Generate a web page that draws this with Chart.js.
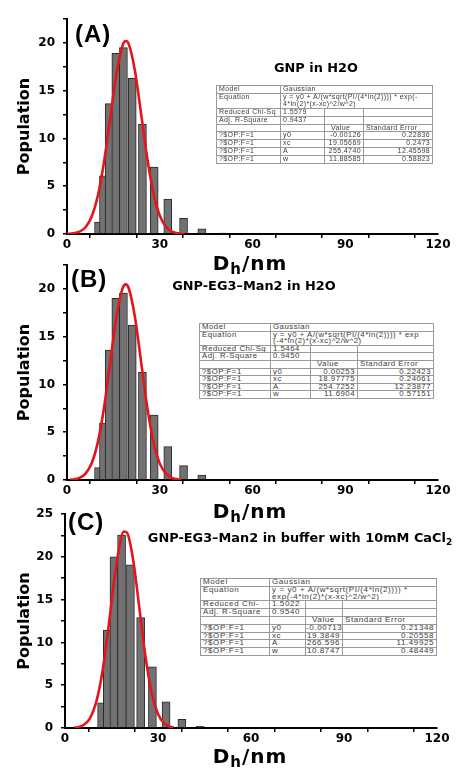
<!DOCTYPE html>
<html>
<head>
<meta charset="utf-8">
<script src="https://cdn.jsdelivr.net/npm/chart.js@4.4.1/dist/chart.umd.min.js"></script>
<style>
  body { margin: 0; width: 460px; height: 774px; background: #fff; position: relative; overflow: hidden; }
  canvas { position: absolute; left: 0; }
  .lbl { position: absolute; font-family: "Liberation Sans", Arial, sans-serif; font-weight: bold; font-size: 24px; line-height: 24px; letter-spacing: 1px; color: #000; white-space: nowrap; }
  .ttl { position: absolute; font-family: "DejaVu Sans", sans-serif; font-weight: bold; font-size: 11.5px; line-height: 12px; color: #000; white-space: nowrap; }
  .ttl sub { font-size: 8px; vertical-align: baseline; position: relative; top: 3px; }
  .xt { position: absolute; width: 140px; margin-left: -70px; text-align: center; font-family: "DejaVu Sans", sans-serif; font-weight: bold; font-size: 20px; line-height: 20px; letter-spacing: 1px; color: #000; white-space: nowrap; }
  .xt sub { font-size: 15px; vertical-align: baseline; position: relative; top: 4px; }
  table.fit { position: absolute; border-collapse: collapse; table-layout: fixed; font-family: "Liberation Sans", Arial, sans-serif; color: #3c3c3c; background: #fff; }
  table.fit td { border: 1px solid #9a9a9a; padding: 0 0 0 2px; white-space: nowrap; overflow: hidden; vertical-align: top; }
  table.fit td.r { text-align: right; padding: 0 2px 0 0; }
  table.fit td.v { padding-left: 6px; }
</style>
</head>
<body>
<canvas id="cA" width="460" height="256" style="top:0px"></canvas>
<canvas id="cB" width="460" height="256" style="top:246px"></canvas>
<canvas id="cC" width="460" height="255" style="top:495px"></canvas>

<div class="lbl" style="left:75px; top:22px">(A)</div>
<div class="lbl" style="left:71px; top:267px">(B)</div>
<div class="lbl" style="left:68px; top:510px">(C)</div>

<div class="ttl" id="tA" style="left:316px; top:62px">GNP in H2O</div>
<div class="ttl" id="tB" style="left:254px; top:280px">GNP-EG3–Man2 in H2O</div>
<div class="ttl" id="tC" style="left:300px; top:532px">GNP-EG3–Man2 in buffer with 10mM CaCl<sub>2</sub></div>

<div class="xt" style="left:250px; top:253px">D<sub>h</sub>/nm</div>
<div class="xt" style="left:250px; top:501px">D<sub>h</sub>/nm</div>
<div class="xt" style="left:250px; top:746px">D<sub>h</sub>/nm</div>

<table class="fit" id="tabA"></table>
<table class="fit" id="tabB"></table>
<table class="fit" id="tabC"></table>

<script>
// histogram bins (bin centre, nm) and populations
const binsA = [10.2, 11.8, 13.65, 15.8, 18.25, 21.1, 24.4, 28.2, 32.6, 37.7, 43.6, 50.4];
const countsA = [1.25, 6.1, 13.65, 18.9, 19.5, 16.3, 11.5, 7.0, 3.65, 1.65, 0.55, 0.1];
const binsB = [10.2, 11.8, 13.65, 15.8, 18.25, 21.1, 24.4, 28.2, 32.6, 37.7, 43.6];
const countsB = [1.3, 5.95, 13.6, 19.0, 19.55, 16.2, 11.3, 6.8, 3.5, 1.5, 0.52];
const binsC = [11.8, 13.65, 15.8, 18.25, 21.1, 24.4, 28.2, 32.6, 37.7, 43.6];
const countsC = [2.95, 11.45, 20.0, 22.55, 19.05, 12.9, 7.15, 3.05, 1.0, 0.2];

// red fit curves
const fitXA = [0, 2, 4, 6, 8, 10, 12, 14, 16, 18, 19, 20, 22, 24, 26, 28, 30, 32, 34, 36, 38];
const fitYA = [0.02, 0.07, 0.24, 0.71, 1.83, 4.03, 7.59, 12.21, 16.8, 19.75, 20.19, 19.84, 17.04, 12.51, 7.85, 4.21, 1.93, 0.76, 0.25, 0.07, 0.02];
const fitXB = [1, 2, 4, 6, 8, 10, 12, 14, 16, 18, 19, 20, 22, 24, 26, 28, 30, 32, 34, 36, 37];
const fitYB = [0.03, 0.06, 0.22, 0.67, 1.77, 3.99, 7.62, 12.38, 17.09, 20.08, 20.47, 20.04, 17.01, 12.28, 7.53, 3.93, 1.74, 0.66, 0.21, 0.06, 0.03];
const fitXC = [3, 4, 6, 8, 10, 12, 14, 16, 18, 19, 20, 22, 24, 26, 28, 30, 32, 34, 35];
const fitYC = [0.04, 0.09, 0.35, 1.1, 2.93, 6.42, 11.68, 17.61, 22.02, 22.95, 22.82, 19.61, 13.98, 8.25, 4.04, 1.64, 0.55, 0.15, 0.08];

// fit tables
const params = ['y0', 'xc', 'A', 'w'];
const valuesA = ['-0.00126', '19.05669', '255.4740', '11.88585'];
const errorsA = ['0.22836', '0.2473', '12.45598', '0.58823'];
const valuesB = ['0.00253', '18.97775', '254.7252', '11.6904'];
const errorsB = ['0.22423', '0.24061', '12.23877', '0.57151'];
const valuesC = ['-0.00713', '19.3849', '266.596', '10.8747'];
const errorsC = ['0.21348', '0.20558', '11.49925', '0.48449'];
const chiLabels = ['Reduced Chi-Sq', 'Reduced Chi-Sq', 'Reduced Chi-'];
const chiValues = ['1.5579', '1.5464', '1.5022'];
const adjValues = ['0.9437', '0.9450', '0.9540'];
const eqLines = [
  ['y = y0 + A/(w*sqrt(PI/(4*ln(2)))) * exp(-', '4*ln(2)*(x-xc)^2/w^2)'],
  ['y = y0 + A/(w*sqrt(PI/(4*ln(2)))) * exp', '(-4*ln(2)*(x-xc)^2/w^2)'],
  ['y = y0 + A/(w*sqrt(PI/(4*ln(2)))) *', 'exp(-4*ln(2)*(x-xc)^2/w^2)']
];

function makeTable(id, i, vals, errs, pos, cols, rowH, fontPx, ls) {
  const t = document.getElementById(id);
  t.style.left = pos[0] + 'px';
  t.style.top = pos[1] + 'px';
  t.style.fontSize = fontPx + 'px';
  t.style.letterSpacing = ls + 'px';
  t.style.width = cols.reduce((a, b) => a + b, 0) + 'px';
  const h = 'style="height:' + rowH + 'px;line-height:' + rowH + 'px"';
  const h2 = 'style="height:' + (2 * rowH) + 'px;line-height:' + rowH + 'px"';
  let html = '<colgroup>' + cols.map(c => '<col style="width:' + c + 'px">').join('') + '</colgroup>';
  html += '<tr><td ' + h + '>Model</td><td colspan="3" ' + h + '>Gaussian</td></tr>';
  html += '<tr><td ' + h2 + '>Equation</td><td colspan="3" ' + h2 + '>' + eqLines[i][0] + '<br>' + eqLines[i][1] + '</td></tr>';
  html += '<tr><td ' + h + '>' + chiLabels[i] + '</td><td ' + h + '>' + chiValues[i] + '</td><td></td><td></td></tr>';
  html += '<tr><td ' + h + '>Adj. R-Square</td><td ' + h + '>' + adjValues[i] + '</td><td></td><td></td></tr>';
  html += '<tr><td ' + h + '></td><td></td><td class="v" ' + h + '>Value</td><td ' + h + '>Standard Error</td></tr>';
  for (let k = 0; k < params.length; k++) {
    html += '<tr><td ' + h + '>?$OP:F=1</td><td ' + h + '>' + params[k] + '</td><td class="r" ' + h + '>' + vals[k] + '</td><td class="r" ' + h + '>' + errs[k] + '</td></tr>';
  }
  t.innerHTML = html;
}

makeTable('tabA', 0, valuesA, errorsA, [216, 85], [64, 44, 39, 69], 6.9, 7, 0.4);
makeTable('tabB', 1, valuesB, errorsB, [199, 323], [71, 40, 47, 76], 6.6, 7.8, 0.5);
makeTable('tabC', 2, valuesC, errorsC, [200, 578], [69, 36, 37, 94], 6.8, 8, 0.6);

// stretch the titles a little (the original uses a wide heavy face)
for (const id of ['tA', 'tB', 'tC']) {
  const el = document.getElementById(id);
  el.style.transform = 'translateX(-50%) scaleX(1.12)';
}

const tickFont = { family: 'DejaVu Sans', weight: 'bold', size: 12 };

function makePanel(id, bins, counts, fitX, fitY, yMax, yWidth, padRight, xHeight) {
  new Chart(document.getElementById(id), {
    type: 'bar',
    data: {
      datasets: [
        {
          type: 'line',
          data: fitX.map((x, i) => ({ x: x, y: fitY[i] })),
          borderColor: '#e3161b',
          borderWidth: 2.6,
          pointRadius: 0,
          cubicInterpolationMode: 'monotone',
          fill: false,
          order: 0
        },
        {
          type: 'bar',
          data: bins.map((x, i) => ({ x: x, y: counts[i] })),
          backgroundColor: '#717171',
          borderColor: '#2a2a2a',
          borderWidth: 1,
          barThickness: 8,
          order: 1
        }
      ]
    },
    options: {
      responsive: false,
      animation: false,
      layout: { padding: { top: 19, right: padRight, left: 0, bottom: 0 } },
      plugins: { legend: { display: false }, tooltip: { enabled: false } },
      scales: {
        x: {
          type: 'linear',
          min: 0,
          max: 120,
          offset: false,
          afterFit: s => { s.height = xHeight; },
          border: { display: true, color: '#000', width: 2 },
          grid: { drawOnChartArea: false, drawTicks: true, tickLength: 4, color: '#000', lineWidth: 1.5 },
          ticks: {
            stepSize: 15, autoSkip: false, maxRotation: 0, padding: 0, color: '#000', font: tickFont,
            callback: v => (v % 30 === 0 ? v : '')
          }
        },
        y: {
          min: 0,
          max: yMax,
          afterFit: s => { s.width = yWidth; },
          border: { display: true, color: '#000', width: 2 },
          grid: { drawOnChartArea: false, drawTicks: true, tickLength: 4, color: '#000', lineWidth: 1.5 },
          ticks: {
            stepSize: 2.5, autoSkip: false, padding: 8, color: '#000', font: tickFont,
            callback: v => (v % 5 === 0 ? v : '')
          },
          title: {
            display: true, text: 'Population', color: '#000',
            font: { family: 'DejaVu Sans', weight: 'bold', size: 16 },
            padding: { top: 15, bottom: 0 }
          }
        }
      }
    }
  });
}

makePanel('cA', binsA, countsA, fitXA, fitYA, 22.5, 67, 22, 22);
makePanel('cB', binsB, countsB, fitXB, fitYB, 22.5, 67, 22, 22);
makePanel('cC', binsC, countsC, fitXC, fitYC, 25, 65, 23, 22);
</script>
</body>
</html>
